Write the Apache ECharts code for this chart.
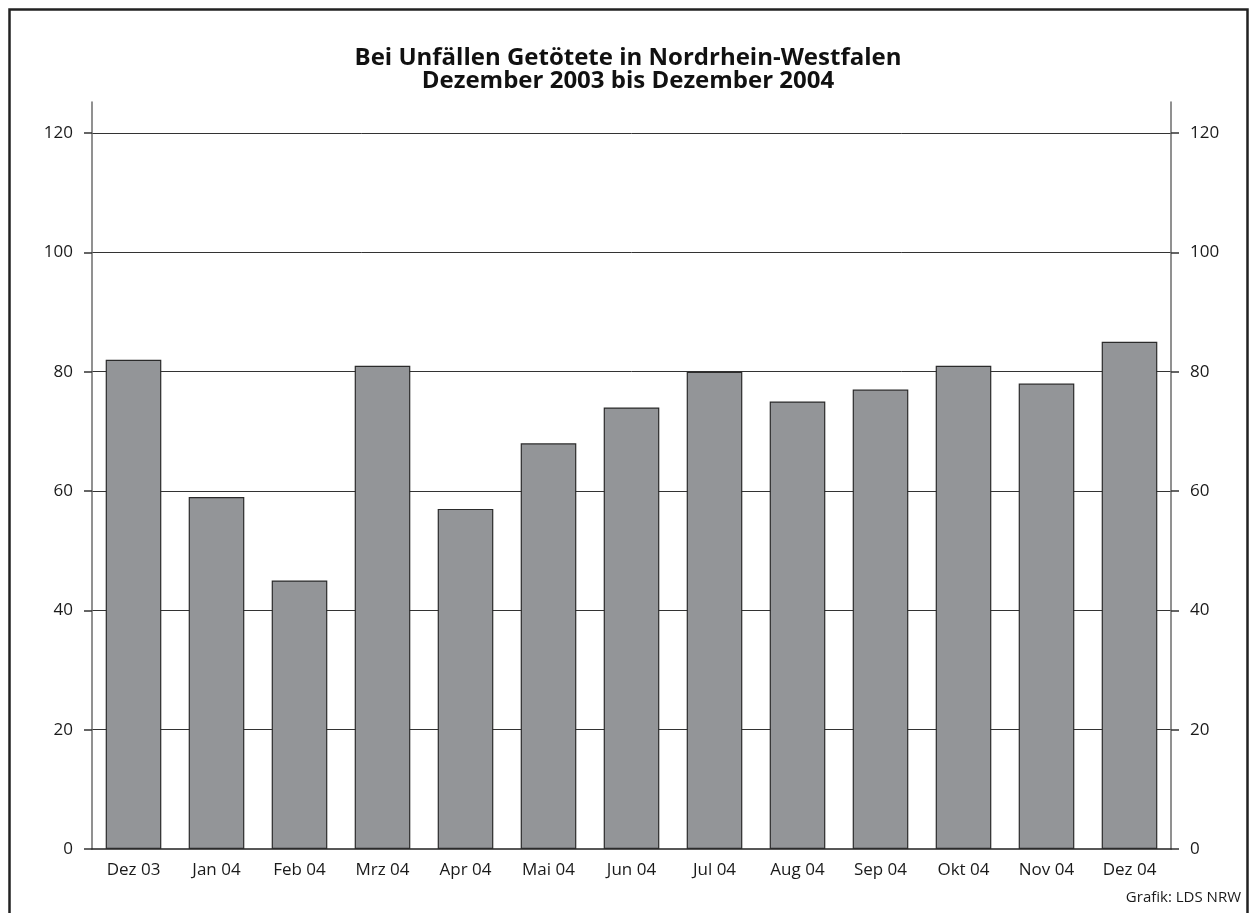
<!DOCTYPE html>
<html>
<head>
<meta charset="utf-8">
<script src="https://cdn.jsdelivr.net/npm/echarts@6/dist/echarts.min.js"></script>
<style>
html,body{margin:0;padding:0;background:#fff;}
#chart{width:1256px;height:913px;}
</style>
</head>
<body>
<div id="chart"></div>
<script>
const titleLines = ['Bei Unfällen Getötete in Nordrhein-Westfalen', 'Dezember 2003 bis Dezember 2004'];
const categories = ['Dez 03','Jan 04','Feb 04','Mrz 04','Apr 04','Mai 04','Jun 04','Jul 04','Aug 04','Sep 04','Okt 04','Nov 04','Dez 04'];
const values = [82, 59, 45, 81, 57, 68, 74, 80, 75, 77, 81, 78, 85];
const yTicks = [0, 20, 40, 60, 80, 100, 120];
const sourceText = 'Grafik: LDS NRW';

const font = '"Open Sans", "Noto Sans", sans-serif';
const chart = echarts.init(document.getElementById('chart'), null, {renderer: 'canvas'});

function yAxisDef(pos) {
  return {
    type: 'value',
    position: pos,
    min: 0,
    max: 125.2,
    interval: 20,
    axisLine: {show: true, lineStyle: {color: '#6d6d6d', width: 1.5}},
    axisTick: {show: true, length: 8, customValues: yTicks, lineStyle: {color: '#333', width: 1.5}},
    axisLabel: {
      customValues: yTicks,
      color: '#1a1a1a', fontFamily: font, fontSize: 17, margin: 19
    },
    splitLine: {show: pos === 'left', showMaxLine: true, showMinLine: false, lineStyle: {color: '#333', width: 1}}
  };
}

chart.setOption({
  animation: false,
  backgroundColor: '#fff',
  title: {
    text: titleLines.join('\n'),
    left: 'center',
    top: 42,
    textStyle: {fontFamily: font, fontWeight: 'bold', fontSize: 24, color: '#111', lineHeight: 23}
  },
  grid: {left: 92, right: 85, top: 102, bottom: 64},
  xAxis: {
    type: 'category',
    data: categories,
    axisLine: {show: true, lineStyle: {color: '#222', width: 1.5}},
    axisTick: {show: false},
    axisLabel: {color: '#1a1a1a', fontFamily: font, fontSize: 17, margin: 13, interval: 0}
  },
  yAxis: [yAxisDef('left'), yAxisDef('right')],
  series: [{
    type: 'bar',
    data: values,
    barCategoryGap: '33%',
    itemStyle: {color: '#939598', borderColor: '#2b2b2b', borderWidth: 1.2},
    z: 3
  }],
  graphic: [
    {type: 'polyline', shape: {points: [[9.5, 913], [9.5, 9.5], [1247.5, 9.5], [1247.5, 913]]},
     style: {stroke: '#222', lineWidth: 2.5, fill: null}, silent: true},
    {type: 'text', right: 15, top: 890,
     style: {text: sourceText, fontFamily: font, fontSize: 15, fill: '#1a1a1a'}}
  ]
});
</script>
</body>
</html>
